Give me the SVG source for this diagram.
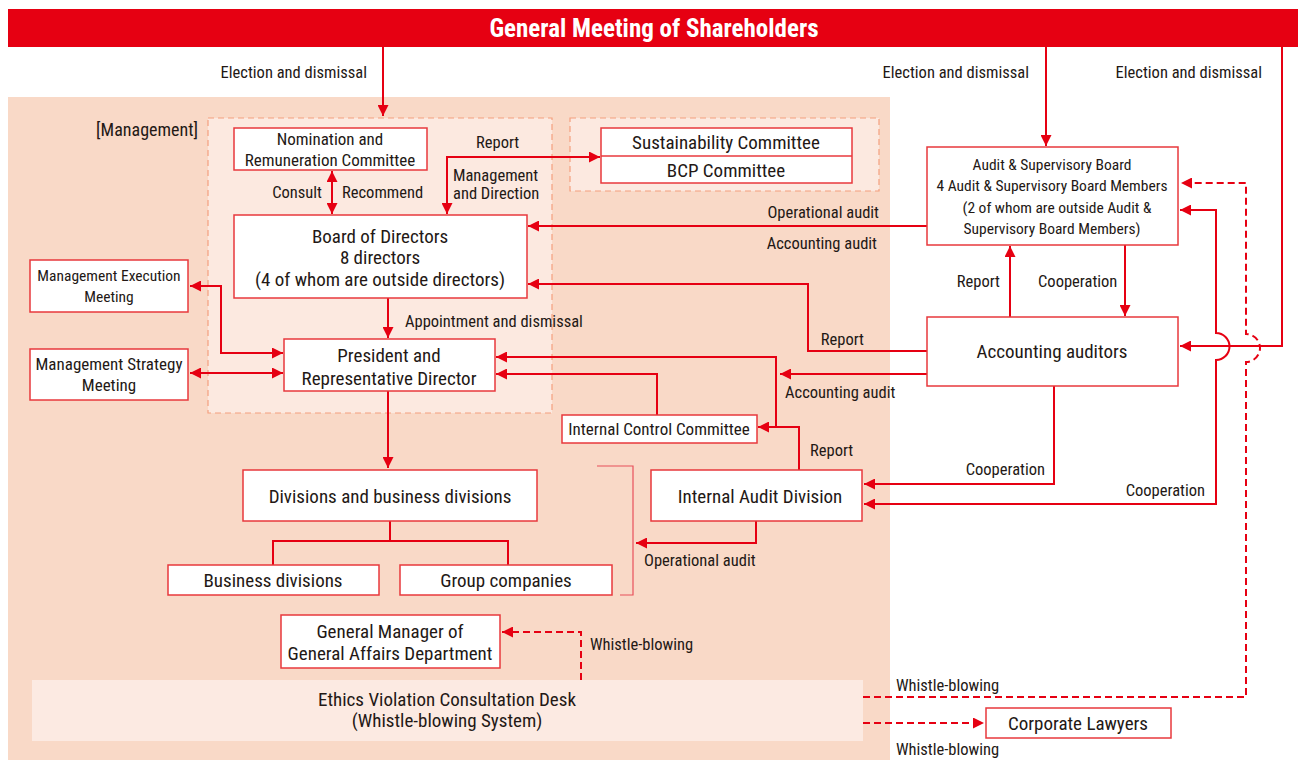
<svg xmlns="http://www.w3.org/2000/svg" width="1298" height="760" viewBox="0 0 1298 760">
<defs>
<marker id="ah" viewBox="0 0 10 10" refX="10" refY="5" markerWidth="11" markerHeight="11" markerUnits="userSpaceOnUse" orient="auto-start-reverse"><path d="M0,0 L10,5 L0,10 z" fill="#E60012"/></marker>
<style>
text{font-family:"Liberation Sans Narrow","Roboto Condensed","Liberation Sans",Arial,sans-serif;fill:#231815;}
.t{font-size:19px;text-anchor:middle;}
.m{font-size:17px;text-anchor:middle;}
.s{font-size:15.5px;text-anchor:middle;}
.l{font-size:16.5px;}
.r{text-anchor:end;}
.box{fill:#fff;stroke:#E8383D;stroke-width:1.5;}
.c{fill:none;stroke:#E60012;stroke-width:2;}
.d{fill:none;stroke:#E60012;stroke-width:2;stroke-dasharray:7,4;}
.me{marker-end:url(#ah);}
.ms{marker-start:url(#ah);}
</style>
</defs>
<rect x="8" y="97" width="882" height="663" fill="#F9D9C7"/>
<rect x="208" y="118" width="344" height="295" fill="#FCE9E0" stroke="#F4A07E" stroke-width="1.2" stroke-dasharray="6,4"/>
<rect x="570" y="118" width="309" height="73" fill="#FCE9E0" stroke="#F4A07E" stroke-width="1.2" stroke-dasharray="6,4"/>
<text x="198" y="136" style="font-size:18px;text-anchor:end">[Management]</text>

<g id="gms">
<rect x="8" y="9" width="1290" height="38" fill="#E60012"/>
<text x="654" y="37" style="font-size:25px;font-weight:bold;text-anchor:middle;fill:#fff">General Meeting of Shareholders</text>
</g>

<g id="connectors">
<path class="c me" d="M383,47 V116"/>
<path class="c me" d="M1046,47 V146"/>
<path class="c me" d="M1282,47 V346 H1180"/>
<path class="c ms me" d="M332,171 V214"/>
<path class="c ms me" d="M447,214 V157 H600"/>
<path class="c me" d="M927,226 H528"/>
<path class="c me" d="M927,351 H808 V284 H528"/>
<path class="c me" d="M1010,317 V246"/>
<path class="c me" d="M1125,245 V316"/>
<path class="c me" d="M927,374 H780"/>
<path class="c me" d="M1054,386 V484 H864"/>
<path class="c ms me" d="M864,504 H1216 V360 A13.5,13.5 0 0 0 1216,333 V210 H1180"/>
<path class="c me" d="M799,470 V427 H758"/>
<path class="c me" d="M776,427 V357 H496"/>
<path class="c me" d="M657,415 V374 H496"/>
<path class="c me" d="M388,298 V338"/>
<path class="c ms me" d="M190,286 H221 V353 H283"/>
<path class="c ms me" d="M190,373 H283"/>
<path class="c me" d="M388,391 V468"/>
<path class="c" d="M390,521 V541 M272,541 H508 M273,540 V565 M508,540 V565"/>
<path class="c me" d="M756,521 V543 H636"/>
<path d="M597,466 H633 V595 H620" fill="none" stroke="#E8505B" stroke-width="1.2"/>
<path class="d me" d="M581,680 V632 H502"/>
<path class="d me" d="M863,697 H1246 V362 A14,14 0 0 0 1246,334 V183 H1181"/>
<path class="d me" d="M863,723 H984"/>
</g>

<g id="labels">
<text class="l r" x="367" y="78">Election and dismissal</text>
<text class="l r" x="1029" y="78">Election and dismissal</text>
<text class="l r" x="1262" y="78">Election and dismissal</text>
<text class="l r" x="322" y="198">Consult</text>
<text class="l" x="342" y="198">Recommend</text>
<text class="l" x="476" y="148">Report</text>
<text class="l" x="453" y="181">Management</text>
<text class="l" x="453" y="199">and Direction</text>
<text class="l r" x="879" y="218">Operational audit</text>
<text class="l r" x="877" y="249">Accounting audit</text>
<text class="l" x="405" y="327">Appointment and dismissal</text>
<text class="l r" x="1000" y="287">Report</text>
<text class="l" x="1038" y="287">Cooperation</text>
<text class="l r" x="864" y="345">Report</text>
<text class="l" x="785" y="398">Accounting audit</text>
<text class="l" x="810" y="456">Report</text>
<text class="l r" x="1045" y="475">Cooperation</text>
<text class="l r" x="1205" y="496">Cooperation</text>
<text class="l" x="644" y="566">Operational audit</text>
<text class="l" x="590" y="650">Whistle-blowing</text>
<text class="l" x="896" y="691">Whistle-blowing</text>
<text class="l" x="896" y="755">Whistle-blowing</text>
</g>

<g id="nomination">
<rect class="box" x="234" y="128" width="193" height="42"/>
<text class="m" x="330" y="145">Nomination and</text>
<text class="m" x="330" y="166">Remuneration Committee</text>
</g>
<g id="board">
<rect class="box" x="234" y="215" width="293" height="83"/>
<text class="t" x="380" y="243">Board of Directors</text>
<text class="t" x="380" y="264">8 directors</text>
<text class="t" x="380" y="286">(4 of whom are outside directors)</text>
</g>
<g id="sustainability">
<rect class="box" x="601" y="128" width="251" height="55"/>
<line x1="601" y1="156" x2="852" y2="156" stroke="#E8383D" stroke-width="1.5"/>
<text class="t" x="726" y="149">Sustainability Committee</text>
<text class="t" x="726" y="177">BCP Committee</text>
</g>
<g id="audit-board">
<rect class="box" x="927" y="147" width="251" height="98"/>
<text class="s" x="1052" y="170">Audit &amp; Supervisory Board</text>
<text class="s" x="1052" y="191">4 Audit &amp; Supervisory Board Members</text>
<text class="s" x="1057" y="213">(2 of whom are outside Audit &amp;</text>
<text class="s" x="1052" y="234">Supervisory Board Members)</text>
</g>
<g id="accounting-auditors">
<rect class="box" x="927" y="317" width="251" height="69"/>
<text class="t" x="1052" y="358">Accounting auditors</text>
</g>
<g id="exec-meeting">
<rect class="box" x="30" y="260" width="158" height="52"/>
<text class="s" x="109" y="281">Management Execution</text>
<text class="s" x="109" y="302">Meeting</text>
</g>
<g id="strategy-meeting">
<rect class="box" x="30" y="349" width="158" height="51"/>
<text class="m" x="109" y="370">Management Strategy</text>
<text class="m" x="109" y="391">Meeting</text>
</g>
<g id="president">
<rect class="box" x="284" y="339" width="211" height="52"/>
<text class="t" x="389" y="362">President and</text>
<text class="t" x="389" y="385">Representative Director</text>
</g>
<g id="internal-control">
<rect class="box" x="562" y="415" width="195" height="28"/>
<text class="m" x="659" y="435">Internal Control Committee</text>
</g>
<g id="internal-audit">
<rect class="box" x="651" y="470" width="211" height="51"/>
<text class="t" x="760" y="503">Internal Audit Division</text>
</g>
<g id="divisions">
<rect class="box" x="243" y="470" width="294" height="51"/>
<text class="t" x="390" y="503">Divisions and business divisions</text>
</g>
<g id="business-divisions">
<rect class="box" x="168" y="565" width="211" height="30"/>
<text class="t" x="273" y="587">Business divisions</text>
</g>
<g id="group-companies">
<rect class="box" x="400" y="565" width="212" height="30"/>
<text class="t" x="506" y="587">Group companies</text>
</g>
<g id="general-manager">
<rect class="box" x="281" y="615" width="219" height="53"/>
<text class="t" x="390" y="638">General Manager of</text>
<text class="t" x="390" y="660">General Affairs Department</text>
</g>
<g id="ethics-desk">
<rect x="32" y="680" width="831" height="61" fill="#FCEAE2"/>
<text class="t" x="447" y="706">Ethics Violation Consultation Desk</text>
<text class="t" x="447" y="727">(Whistle-blowing System)</text>
</g>
<g id="corporate-lawyers">
<rect class="box" x="986" y="708" width="185" height="30"/>
<text class="t" x="1078" y="730">Corporate Lawyers</text>
</g>
</svg>
